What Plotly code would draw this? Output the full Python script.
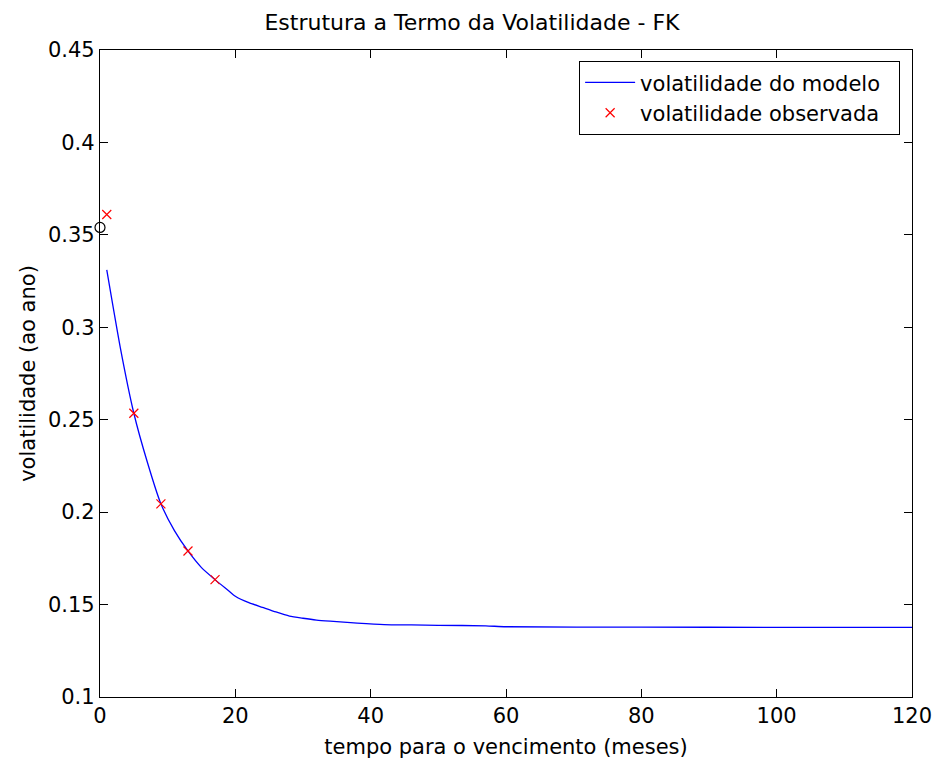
import plotly.graph_objects as go

# Data
model_t = [1, 3, 5, 7, 9, 11, 13, 15, 17, 19, 20, 22, 24, 26, 28, 30, 32, 34, 36, 38, 42, 46,
           50, 57, 60, 80, 100, 120]
model_vol = [0.331, 0.289, 0.2535, 0.227, 0.2045, 0.190, 0.179, 0.170, 0.1635, 0.1575, 0.1545,
             0.1510, 0.1485, 0.1460, 0.1438, 0.1426, 0.1416, 0.1410, 0.1405, 0.1400, 0.1392, 0.1390,
             0.1388, 0.1385, 0.1380, 0.1378, 0.1377, 0.1377]

obs_t = [1, 5, 9, 13, 17]
obs_vol = [0.361, 0.2535, 0.2045, 0.179, 0.1635]

start_t = [0]
start_vol = [0.354]

x_ticks = [0, 20, 40, 60, 80, 100, 120]
y_ticks = [0.1, 0.15, 0.2, 0.25, 0.3, 0.35, 0.4, 0.45]
y_tick_labels = ["0.1", "0.15", "0.2", "0.25", "0.3", "0.35", "0.4", "0.45"]

FONT = "DejaVu Sans"
PAD = "\u00a0\u00a0"

fig = go.Figure()
fig.add_trace(go.Scatter(x=model_t, y=model_vol, mode="lines",
                         line=dict(color="#0000ff", width=1.3, shape="spline", smoothing=0.6),
                         name="volatilidade do modelo" + PAD))
fig.add_trace(go.Scatter(x=obs_t, y=obs_vol, mode="markers",
                         marker=dict(symbol="x-thin", size=9, line=dict(color="#ff0000", width=1.2), color="#ff0000"),
                         name="volatilidade observada" + PAD))
fig.add_trace(go.Scatter(x=start_t, y=start_vol, mode="markers",
                         marker=dict(symbol="circle-open", size=10, color="black", line=dict(width=1.2)),
                         showlegend=False, cliponaxis=False))

axis_common = dict(showgrid=False, zeroline=False, showline=True, linecolor="black", linewidth=1.3,
                   ticks="inside", ticklen=8, tickwidth=1.3, tickcolor="black", mirror="ticks",
                   tickfont=dict(family=FONT, size=21, color="black"))

fig.update_layout(
    width=944, height=769,
    margin=dict(l=100, r=24, t=50, b=72),
    paper_bgcolor="white", plot_bgcolor="white",
    font=dict(family=FONT, size=21, color="black"),
    title=dict(text="Estrutura a Termo da Volatilidade - FK", x=0.5, xanchor="center",
               y=1 - 22 / 769, yanchor="middle", font=dict(family=FONT, size=22, color="black")),
    xaxis=dict(range=[0, 120], tickvals=x_ticks,
               title=dict(text="tempo para o vencimento (meses)", standoff=11,
                          font=dict(family=FONT, size=21, color="black")),
               **axis_common),
    yaxis=dict(range=[0.1, 0.45], tickvals=y_ticks, ticktext=y_tick_labels,
               title=dict(text="volatilidade (ao ano)", standoff=6,
                          font=dict(family=FONT, size=21, color="black")),
               **axis_common),
    legend=dict(x=0.985, y=0.983, xanchor="right", yanchor="top",
                bordercolor="black", borderwidth=1.3, bgcolor="white",
                font=dict(family=FONT, size=21, color="black"),
                tracegroupgap=0, itemwidth=50),
    showlegend=True,
)

fig.write_html("out.html")
